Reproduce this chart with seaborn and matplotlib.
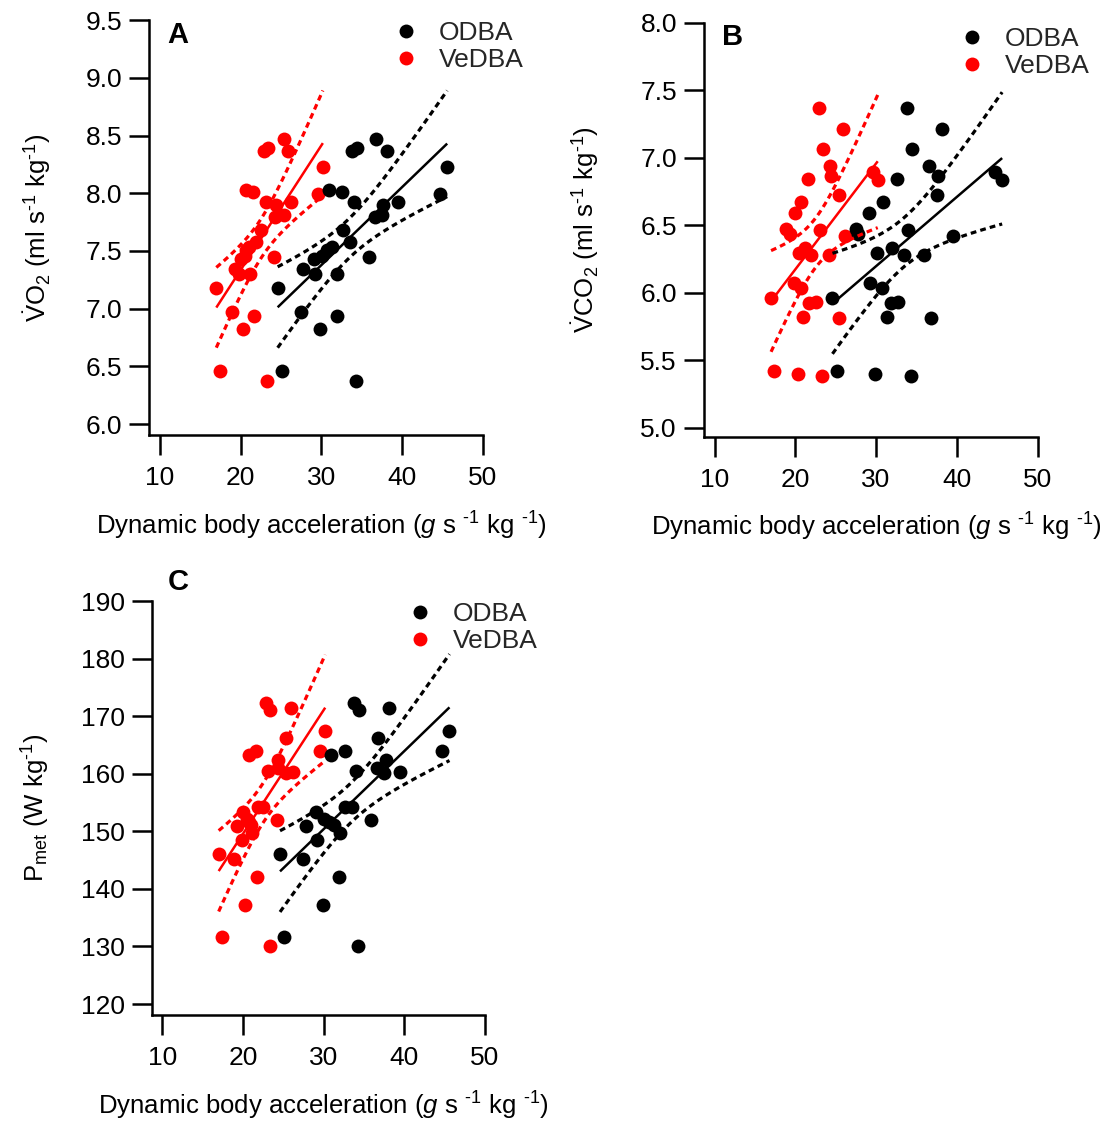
import numpy as np
import pandas as pd
import matplotlib
matplotlib.use("Agg")
import matplotlib.pyplot as plt
import seaborn as sns
from matplotlib.lines import Line2D

# Per-animal dynamic body acceleration (g s^-1 kg^-1)
odba = [24.6, 25.1, 27.5, 27.8, 29.1, 29.2, 29.9, 30.1, 30.7, 30.9, 31.3, 31.9, 32.0, 32.6,
        32.7, 33.5, 33.8, 34.0, 34.3, 34.4, 35.9, 36.6, 36.8, 37.5, 37.7, 38.1, 39.5, 44.7, 45.6]
vedba = [17.0, 17.4, 18.9, 19.3, 20.0, 19.85, 20.3, 20.5, 20.7, 20.7, 21.0, 21.7, 21.15, 21.6,
         22.5, 21.9, 22.9, 23.1, 23.3, 23.4, 24.2, 24.3, 25.4, 25.4, 24.4, 25.9, 26.2, 29.6, 30.2]

# Metabolic measures for the same animals
vo2 = [7.18, 6.46, 6.97, 7.34, 7.43, 7.30, 6.82, 7.46, 7.51, 8.03, 7.53, 6.94, 7.30, 8.01,
       7.68, 7.58, 8.37, 7.92, 6.37, 8.39, 7.45, 7.79, 8.47, 7.81, 7.90, 8.37, 7.92, 7.99, 8.23]
vco2 = [5.96, 5.42, 6.47, 6.43, 6.59, 6.07, 5.40, 6.29, 6.03, 6.67, 5.82, 5.92, 6.33, 6.84,
        5.93, 6.28, 7.37, 6.46, 5.38, 7.06, 6.28, 6.94, 5.81, 6.72, 6.86, 7.21, 6.42, 6.89, 6.83]
pmet = [146.0, 131.7, 145.2, 150.9, 153.3, 148.5, 137.2, 152.1, 151.7, 163.3, 151.1, 142.0,
        149.7, 164.0, 154.2, 154.2, 172.4, 160.5, 130.0, 171.1, 152.0, 161.0, 166.2, 160.1,
        162.4, 171.5, 160.3, 163.9, 167.5]

metrics = ["ODBA", "VeDBA"]
colors = {"ODBA": "#000000", "VeDBA": "#ff0000"}
x_ticks = [10, 20, 30, 40, 50]
yticks_a = [6.0, 6.5, 7.0, 7.5, 8.0, 8.5, 9.0, 9.5]
yticks_b = [5.0, 5.5, 6.0, 6.5, 7.0, 7.5, 8.0]
yticks_c = [120, 130, 140, 150, 160, 170, 180, 190]

T_CRIT = 2.052  # two-sided 95 % t quantile, 27 d.f.

sns.set_theme(style="white")
plt.rcParams["font.family"] = ["Liberation Sans", "DejaVu Sans"]
plt.rcParams["mathtext.fontset"] = "custom"
plt.rcParams["mathtext.rm"] = "Liberation Sans"
plt.rcParams["mathtext.it"] = "Liberation Sans:italic"
plt.rcParams["mathtext.bf"] = "Liberation Sans:bold"

TICK_FS = 19
LABEL_FS = 18.5

W, H = 1114, 1124
fig = plt.figure(figsize=(W / 100, H / 100), dpi=100)
fig.patch.set_facecolor("white")


def px_rect(left, right, top, bottom):
    return [left / W, (H - bottom) / H, (right - left) / W, (bottom - top) / H]


def long_table(y):
    return pd.DataFrame({
        "dba": odba + vedba,
        "y": list(y) * 2,
        "metric": ["ODBA"] * len(odba) + ["VeDBA"] * len(vedba),
    })


def fit_with_band(ax, x, y, color):
    x = np.asarray(x, float)
    y = np.asarray(y, float)
    slope, icpt = np.polyfit(x, y, 1)
    resid = y - (slope * x + icpt)
    n = len(x)
    s = np.sqrt(np.sum(resid ** 2) / (n - 2))
    sxx = np.sum((x - x.mean()) ** 2)
    xs = np.linspace(x.min(), x.max(), 100)
    fit = slope * xs + icpt
    half = T_CRIT * s * np.sqrt(1 / n + (xs - x.mean()) ** 2 / sxx)
    ax.plot(xs, fit, color=color, lw=1.8, solid_capstyle="butt", zorder=4)
    for band in (fit + half, fit - half):
        ax.plot(xs, band, color=color, lw=2.3, ls=(0, (1.8, 1.3)), zorder=4)


XLABEL = (r"Dynamic body acceleration ($\mathit{g}$ s $^{\text{-}1}$ kg $^{\text{-}1}$)")


def panel(rect, y, ylim, yticks, ylabel, ylab_x, letter, letter_xy, leg_xy, fmt):
    ax = fig.add_axes(rect)
    df = long_table(y)
    for m in ["VeDBA", "ODBA"]:
        sns.scatterplot(data=df[df.metric == m], x="dba", y="y", color=colors[m],
                        s=100, linewidth=0, ax=ax, zorder=3, legend=False)
    fit_with_band(ax, vedba, y, colors["VeDBA"])
    fit_with_band(ax, odba, y, colors["ODBA"])

    ax.set_xlim(8.7, 50)
    ax.set_ylim(*ylim)
    ax.set_xticks(x_ticks)
    ax.set_yticks(yticks)
    ax.set_yticklabels([fmt.format(v) for v in yticks])
    for side in ("top", "right"):
        ax.spines[side].set_visible(False)
    for side in ("left", "bottom"):
        ax.spines[side].set_linewidth(1.8)
        ax.spines[side].set_color("black")
    ax.tick_params(axis="both", which="major", bottom=True, left=True,
                   direction="out", length=14.5, width=1.8,
                   color="black", labelsize=TICK_FS, labelcolor="black")
    ax.tick_params(axis="x", pad=8)
    ax.tick_params(axis="y", pad=5)
    ax.set_facecolor("white")

    ax.set_xlabel(XLABEL, fontsize=LABEL_FS, color="black")
    ax.xaxis.set_label_coords(0.516, -0.18)
    ax.set_ylabel(ylabel, fontsize=LABEL_FS, color="black")
    ax.yaxis.set_label_coords(ylab_x, 0.5)

    fig.text(letter_xy[0] / W, 1 - letter_xy[1] / H, letter, fontsize=21,
             fontweight="bold", ha="center", va="center", color="black")

    handles = [Line2D([], [], ls="", marker="o", markersize=10, markeredgewidth=0,
                      color=colors[m]) for m in metrics]
    ax.legend(handles, metrics, loc="upper left",
              bbox_to_anchor=(leg_xy[0] / W, 1 - leg_xy[1] / H),
              bbox_transform=fig.transFigure, frameon=False, borderpad=0,
              borderaxespad=0, handlelength=0.9, handletextpad=0.8,
              labelspacing=0.12, fontsize=TICK_FS)
    return ax


panel(px_rect(149.3, 482.7, 20.1, 435), vo2, (5.905, 9.5), yticks_a,
      r"$\dot{\mathrm{V}}\mathrm{O}_2$ (ml s$^{\text{-}1}$ kg$^{\text{-}1}$)", -0.29,
      "A", (178, 35), (394, 21), "{:.1f}")
panel(px_rect(704, 1037.7, 22.5, 436.7), vco2, (4.932, 8.0), yticks_b,
      r"$\dot{\mathrm{V}}\mathrm{CO}_2$ (ml s$^{\text{-}1}$ kg$^{\text{-}1}$)", -0.31,
      "B", (733, 37), (960, 27), "{:.1f}")
panel(px_rect(151.7, 485, 601.3, 1015), pmet, (118.09, 190), yticks_c,
      r"P$_{\mathrm{met}}$ (W kg$^{\text{-}1}$)", -0.30,
      "C", (178, 582), (408, 602), "{:.0f}")

fig.savefig("out.png", dpi=100, facecolor="white")
